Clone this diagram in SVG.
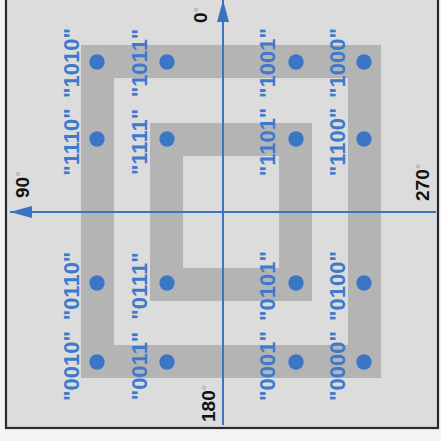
<svg xmlns="http://www.w3.org/2000/svg" width="441" height="441" viewBox="0 0 441 441">
<style>
.ring{fill:none;stroke:#b4b4b4;stroke-width:33}
.dot{fill:#3b76c6}
.lbl{font-family:"Liberation Sans",Arial,sans-serif;font-weight:bold;font-size:22px;fill:#3e7acb;text-anchor:middle}
.ang{font-family:"Liberation Sans",Arial,sans-serif;font-weight:bold;font-size:19px;fill:#111}
.deg{font-size:14px;font-weight:normal;fill:#a0a0a0}
.axis{stroke:#3a73c2;stroke-width:2;fill:none}
</style>
<defs>
<marker id="ah" viewBox="0 0 22 12" refX="22" refY="6" markerWidth="22" markerHeight="12" markerUnits="userSpaceOnUse" orient="auto">
<path d="M0,0 L22,6 L0,12 Z" fill="#3a73c2"/>
</marker>
</defs>
<rect x="0" y="0" width="441" height="441" fill="#f4f4f4"/>
<rect x="6" y="-5" width="432" height="433" fill="#dcdcdc" stroke="#2a2a2a" stroke-width="2.2"/>
<g id="rings">
<rect class="ring" x="97.5" y="61.5" width="267" height="300"/>
<rect class="ring" x="166.5" y="139.5" width="129" height="145"/>
</g>
<g id="connectors">
<line class="axis" x1="223" y1="425" x2="223" y2="0" marker-end="url(#ah)"/>
<line class="axis" x1="436" y1="212" x2="10" y2="212" marker-end="url(#ah)"/>
</g>
<g id="dots">
<circle class="dot" cx="97" cy="62" r="7.7"/>
<circle class="dot" cx="167" cy="62" r="7.7"/>
<circle class="dot" cx="296" cy="62" r="7.7"/>
<circle class="dot" cx="364" cy="62" r="7.7"/>
<circle class="dot" cx="97" cy="139" r="7.7"/>
<circle class="dot" cx="167" cy="139" r="7.7"/>
<circle class="dot" cx="296" cy="139" r="7.7"/>
<circle class="dot" cx="364" cy="139" r="7.7"/>
<circle class="dot" cx="97" cy="283" r="7.7"/>
<circle class="dot" cx="167" cy="283" r="7.7"/>
<circle class="dot" cx="296" cy="283" r="7.7"/>
<circle class="dot" cx="364" cy="283" r="7.7"/>
<circle class="dot" cx="97" cy="362" r="7.7"/>
<circle class="dot" cx="167" cy="362" r="7.7"/>
<circle class="dot" cx="296" cy="362" r="7.7"/>
<circle class="dot" cx="364" cy="362" r="7.7"/>
</g>
<g id="labels">
<text class="lbl" transform="translate(79,63) rotate(-90)">"1010"</text>
<text class="lbl" transform="translate(79,142) rotate(-90)">"1110"</text>
<text class="lbl" transform="translate(79,286) rotate(-90)">"0110"</text>
<text class="lbl" transform="translate(79,366) rotate(-90)">"0010"</text>
<text class="lbl" transform="translate(147,63) rotate(-90)">"1011"</text>
<text class="lbl" transform="translate(147,142) rotate(-90)">"1111"</text>
<text class="lbl" transform="translate(147,286) rotate(-90)">"0111"</text>
<text class="lbl" transform="translate(147,366) rotate(-90)">"0011"</text>
<text class="lbl" transform="translate(275,63) rotate(-90)">"1001"</text>
<text class="lbl" transform="translate(275,142) rotate(-90)">"1101"</text>
<text class="lbl" transform="translate(275,286) rotate(-90)">"0101"</text>
<text class="lbl" transform="translate(275,366) rotate(-90)">"0001"</text>
<text class="lbl" transform="translate(345,63) rotate(-90)">"1000"</text>
<text class="lbl" transform="translate(345,142) rotate(-90)">"1100"</text>
<text class="lbl" transform="translate(345,286) rotate(-90)">"0100"</text>
<text class="lbl" transform="translate(345,366) rotate(-90)">"0000"</text>
</g>
<g id="angles">
<text class="ang" transform="translate(207,23) rotate(-90)">0<tspan class="deg" dy="-3">°</tspan></text>
<text class="ang" transform="translate(29,198) rotate(-90)">90<tspan class="deg" dy="-3">°</tspan></text>
<text class="ang" transform="translate(429,201) rotate(-90)">270<tspan class="deg" dy="-3">°</tspan></text>
<text class="ang" transform="translate(215,422) rotate(-90)">180<tspan class="deg" dy="-3">°</tspan></text>
</g>
</svg>
